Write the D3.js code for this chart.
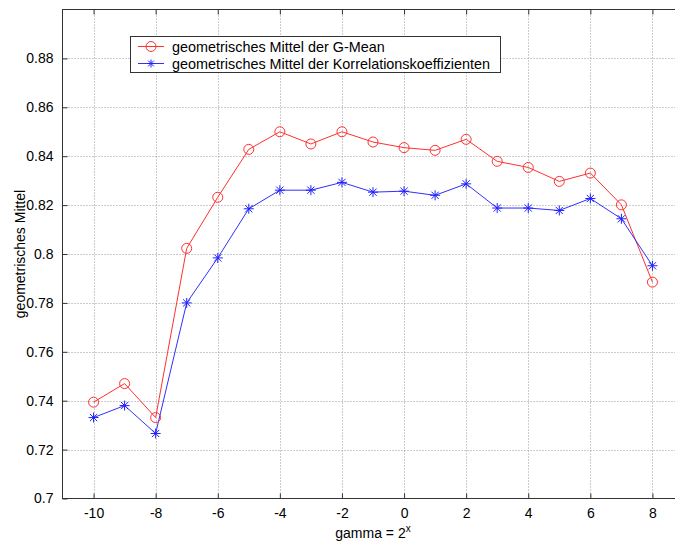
<!DOCTYPE html>
<html><head><meta charset="utf-8">
<script src="https://cdn.jsdelivr.net/npm/d3@7"></script>
<style>
html,body{margin:0;padding:0;background:#fff;overflow:hidden}
svg{display:block}
text{font-family:"Liberation Sans",Arial,sans-serif;fill:#000}
</style></head>
<body>
<svg id="c" width="675" height="544"></svg>
<script>
const gammaExp = [-10,-9,-8,-7,-6,-5,-4,-3,-2,-1,0,1,2,3,4,5,6,7,8];
const gmean = [0.7394,0.747,0.7331,0.8023,0.8232,0.8428,0.850,0.845,0.850,0.8458,0.8435,0.8424,0.8469,0.8379,0.8354,0.8297,0.8331,0.8201,0.7885];
const korr  = [0.7331,0.738,0.7266,0.780,0.7984,0.8185,0.8261,0.8261,0.8293,0.8253,0.8257,0.824,0.8287,0.8188,0.8188,0.8178,0.8227,0.8144,0.7952];
const xTicks = [-10,-8,-6,-4,-2,0,2,4,6,8];
const yTicks = [0.7,0.72,0.74,0.76,0.78,0.8,0.82,0.84,0.86,0.88];
const seriesNames = ["geometrisches Mittel der G-Mean","geometrisches Mittel der Korrelationskoeffizienten"];
const xLabel = "gamma = 2";
const xLabelSup = "x";
const yLabel = "geometrisches Mittel";

const L=62.5, T=9.5, B=498.5, R=683.5;
const svg = d3.select("#c");
const x = d3.scaleLinear().domain([-11,9]).range([L,R]);
const y = d3.scaleLinear().domain([0.7,0.9]).range([B,T]);

// grid
const g = svg.append("g");
g.selectAll(".gx").data(xTicks).join("line")
  .attr("x1",d=>Math.round(x(d))+0.5).attr("x2",d=>Math.round(x(d))+0.5)
  .attr("y1",T).attr("y2",B).attr("stroke","#999").attr("stroke-dasharray","1,2");
g.selectAll(".gy").data(yTicks.filter(d=>d>0.7)).join("line")
  .attr("y1",d=>Math.round(y(d))+0.5).attr("y2",d=>Math.round(y(d))+0.5)
  .attr("x1",L).attr("x2",R).attr("stroke","#999").attr("stroke-dasharray","1,2");

// frame
svg.append("rect").attr("x",L).attr("y",T).attr("width",R-L).attr("height",B-T)
  .attr("fill","none").attr("stroke","#333").attr("stroke-width",1);

// axes with inward ticks
const xAxB = d3.axisBottom(x).tickValues(xTicks).tickSize(-5).tickPadding(10).tickFormat(d=>String(d));
const gxB = svg.append("g").attr("transform",`translate(0,${B})`).call(xAxB);
const xAxT = d3.axisTop(x).tickValues(xTicks).tickSize(-5).tickFormat("");
const gxT = svg.append("g").attr("transform",`translate(0,${T})`).call(xAxT);
const yAxL = d3.axisLeft(y).tickValues(yTicks).tickSize(-5).tickPadding(9).tickFormat(d=>String(+d.toFixed(2)));
const gyL = svg.append("g").attr("transform",`translate(${L},0)`).call(yAxL);
const yAxR = d3.axisRight(y).tickValues(yTicks).tickSize(-5).tickFormat("");
const gyR = svg.append("g").attr("transform",`translate(${R},0)`).call(yAxR);
[gxB,gxT,gyL,gyR].forEach(a=>{
  a.select(".domain").remove();
  a.selectAll(".tick line").attr("stroke","#333");
  a.selectAll("text").style("font-size","14px").attr("fill","#000").style("font-family","'Liberation Sans',Arial,sans-serif");
});

// labels
const xl = svg.append("text").attr("x",x(-1)).attr("y",538).attr("text-anchor","middle").style("font-size","14px");
xl.append("tspan").text(xLabel);
xl.append("tspan").text(xLabelSup).attr("dy",-6).style("font-size","10px");
svg.append("text").attr("transform",`translate(25,${(T+B)/2}) rotate(-90)`).attr("text-anchor","middle")
  .style("font-size","14px").text(yLabel);

// lines
const line = d3.line().x((d,i)=>x(gammaExp[i])).y(d=>y(d));
svg.append("path").datum(gmean).attr("d",line).attr("fill","none").attr("stroke","#ff3030").attr("stroke-width",1);
svg.append("path").datum(korr).attr("d",line).attr("fill","none").attr("stroke","#3030ff").attr("stroke-width",1);

function star(sel, cx, cy, r, col){
  const gg = sel.append("g").attr("transform",`translate(${cx},${cy})`).attr("stroke",col).attr("stroke-width",1);
  gg.append("line").attr("x1",-r).attr("x2",r).attr("y1",0).attr("y2",0);
  gg.append("line").attr("x1",0).attr("x2",0).attr("y1",-r).attr("y2",r);
  const k=r*0.72;
  gg.append("line").attr("x1",-k).attr("x2",k).attr("y1",-k).attr("y2",k);
  gg.append("line").attr("x1",-k).attr("x2",k).attr("y1",k).attr("y2",-k);
}
svg.append("g").selectAll("circle").data(gmean).join("circle")
  .attr("cx",(d,i)=>x(gammaExp[i])).attr("cy",d=>y(d)).attr("r",5)
  .attr("fill","none").attr("stroke","#ff3030").attr("stroke-width",1);
const sg = svg.append("g");
korr.forEach((d,i)=>star(sg, x(gammaExp[i]), y(d), 5, "#2020ff"));

// legend
const lg = svg.append("g");
lg.append("rect").attr("x",130.5).attr("y",36.5).attr("width",370).attr("height",36)
  .attr("fill","#fff").attr("stroke","#333");
const cols = ["#ff3030","#3030ff"];
seriesNames.forEach((n,i)=>{
  const yy = 46.5 + i*17;
  lg.append("line").attr("x1",138).attr("x2",164).attr("y1",yy).attr("y2",yy).attr("stroke",cols[i]);
  if(i===0) lg.append("circle").attr("cx",151).attr("cy",yy).attr("r",5).attr("fill","none").attr("stroke",cols[i]);
  else star(lg,151,yy,4,"#2020ff");
  lg.append("text").attr("x",172).attr("y",yy+5).style("font-size","14.4px").text(n);
});
</script>
</body></html>
